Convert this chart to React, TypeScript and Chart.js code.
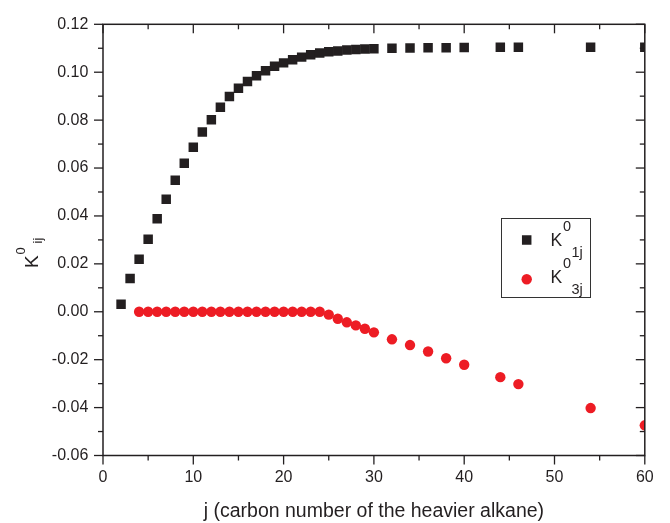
import React, { useEffect, useRef } from "react";
import { Chart, registerables } from "chart.js";

Chart.register(...registerables);

// ---- data ----
const jK1: number[] = [2, 3, 4, 5, 6, 7, 8, 9, 10, 11, 12, 13, 14, 15, 16, 17, 18, 19, 20, 21, 22, 23, 24, 25, 26, 27, 28, 29, 30, 32, 34, 36, 38, 40, 44, 46, 54, 60];
const k1j: number[] = [0.0031, 0.0139, 0.0219, 0.0303, 0.0388, 0.047, 0.0549, 0.062, 0.0687, 0.075, 0.0802, 0.0854, 0.0899, 0.0933, 0.0961, 0.0985, 0.1006, 0.1025, 0.1039, 0.1052, 0.1063, 0.1073, 0.108, 0.1085, 0.1089, 0.1093, 0.1095, 0.1097, 0.1098, 0.11, 0.1101, 0.1102, 0.1102, 0.1103, 0.1104, 0.1104, 0.1104, 0.1104];
const jK3: number[] = [4, 5, 6, 7, 8, 9, 10, 11, 12, 13, 14, 15, 16, 17, 18, 19, 20, 21, 22, 23, 24, 25, 26, 27, 28, 29, 30, 32, 34, 36, 38, 40, 44, 46, 54, 60];
const k3j: number[] = [0, 0, 0, 0, 0, 0, 0, 0, 0, 0, 0, 0, 0, 0, 0, 0, 0, 0, 0, 0, 0, -0.0012, -0.0029, -0.0044, -0.0057, -0.0071, -0.0086, -0.0115, -0.0139, -0.0166, -0.0194, -0.0221, -0.0273, -0.0302, -0.0402, -0.0474];

const xTickValues: number[] = [0, 10, 20, 30, 40, 50, 60];
const yTickValues: number[] = [-0.06, -0.04, -0.02, 0, 0.02, 0.04, 0.06, 0.08, 0.1, 0.12];
const xTitle = "j (carbon number of the heavier alkane)";

const BLACK = "#231f20";
const RED = "#ed1c24";
const FONT = "'Liberation Sans', Arial, Helvetica, sans-serif";

function richText(
  ctx: CanvasRenderingContext2D,
  parts: { t: string; size: number; x: number; y: number }[]
) {
  for (const p of parts) {
    ctx.font = `${p.size}px ${FONT}`;
    ctx.fillText(p.t, p.x, p.y);
  }
}

const framePlugin = {
  id: "frame",
  afterDraw(chart: any) {
    const { ctx, chartArea: a, scales } = chart;
    const xs = scales.x;
    const ys = scales.y;
    ctx.save();
    ctx.strokeStyle = BLACK;
    ctx.fillStyle = BLACK;
    ctx.lineWidth = 1.5;
    ctx.strokeRect(a.left, a.top, a.right - a.left, a.bottom - a.top);
    ctx.lineWidth = 1.3;
    const seg = (x1: number, y1: number, x2: number, y2: number) => {
      ctx.beginPath();
      ctx.moveTo(x1, y1);
      ctx.lineTo(x2, y2);
      ctx.stroke();
    };
    // x ticks (major every 10, minor every 5)
    for (let i = 0; i <= 12; i++) {
      const v = i * 5;
      const px = xs.getPixelForValue(v);
      const len = i % 2 === 0 ? 9 : 5;
      seg(px, a.bottom, px, a.bottom + len);
      seg(px, a.top, px, a.top + len);
    }
    // y ticks (major every 0.02, minor every 0.01)
    for (let i = 0; i <= 18; i++) {
      const v = -0.06 + i * 0.01;
      const py = ys.getPixelForValue(v);
      const len = i % 2 === 0 ? 9 : 5;
      seg(a.left - len, py, a.left, py);
      seg(a.right - len, py, a.right, py);
    }

    // legend
    const lx = 501.5, ly = 218.5, lw = 89, lh = 79;
    ctx.lineWidth = 1;
    ctx.strokeStyle = "#333";
    ctx.strokeRect(lx, ly, lw, lh);
    ctx.fillStyle = BLACK;
    ctx.fillRect(526.7 - 4.75, 240 - 4.75, 9.5, 9.5);
    ctx.fillStyle = RED;
    ctx.beginPath();
    ctx.arc(526.7, 279.3, 5.2, 0, Math.PI * 2);
    ctx.fill();
    ctx.fillStyle = BLACK;
    ctx.textBaseline = "alphabetic";
    ctx.textAlign = "left";
    richText(ctx, [
      { t: "K", size: 17.5, x: 550.5, y: 246 },
      { t: "0", size: 14.5, x: 563, y: 230.5 },
      { t: "1j", size: 14.5, x: 571.5, y: 257 },
    ]);
    richText(ctx, [
      { t: "K", size: 17.5, x: 550.5, y: 283 },
      { t: "0", size: 14.5, x: 563, y: 268 },
      { t: "3j", size: 14.5, x: 571.5, y: 294 },
    ]);

    // y axis title
    ctx.translate(38.3, 268);
    ctx.rotate(-Math.PI / 2);
    richText(ctx, [
      { t: "K", size: 19, x: 0, y: 0 },
      { t: "0", size: 13, x: 13.5, y: -13.3 },
      { t: "ij", size: 13, x: 24.5, y: 3.5 },
    ]);
    ctx.restore();
  },
};

export default function App() {
  const ref = useRef<HTMLCanvasElement | null>(null);
  useEffect(() => {
    if (!ref.current) return;
    const chart = new Chart(ref.current, {
      type: "scatter",
      data: {
        datasets: [
          {
            label: "K01j",
            data: jK1.map((j, i) => ({ x: j, y: k1j[i] })),
            pointStyle: "rect",
            pointRadius: 6.7,
            pointHoverRadius: 6.7,
            backgroundColor: BLACK,
            borderWidth: 0,
            clip: 0,
          },
          {
            label: "K03j",
            data: jK3.map((j, i) => ({ x: j, y: k3j[i] })),
            pointStyle: "circle",
            pointRadius: 5.2,
            pointHoverRadius: 5.2,
            backgroundColor: RED,
            borderWidth: 0,
            clip: 0,
          },
        ],
      },
      options: {
        animation: false,
        responsive: true,
        maintainAspectRatio: false,
        layout: { padding: { left: 0, top: 16, right: 25.2, bottom: 0 } },
        plugins: { legend: { display: false }, tooltip: { enabled: false } },
        scales: {
          x: {
            type: "linear",
            min: 0,
            max: 60,
            afterFit: (s: any) => {
              s.height = 67.5;
            },
            afterBuildTicks: (s: any) => {
              s.ticks = xTickValues.map((v) => ({ value: v }));
            },
            grid: { display: false, drawTicks: false },
            border: { display: false },
            ticks: {
              padding: 12.4,
              color: BLACK,
              font: { family: FONT, size: 16 },
              maxRotation: 0,
              callback: (v: any) => String(v),
            },
            title: {
              display: true,
              text: xTitle,
              color: BLACK,
              font: { family: FONT, size: 19.5 },
              padding: { top: 0, bottom: 0 },
            },
          },
          y: {
            type: "linear",
            min: -0.06,
            max: 0.12,
            afterFit: (s: any) => {
              s.width = 103;
            },
            afterBuildTicks: (s: any) => {
              s.ticks = yTickValues.map((v) => ({ value: v }));
            },
            grid: { display: false, drawTicks: false },
            border: { display: false },
            ticks: {
              padding: 14.7,
              color: BLACK,
              font: { family: FONT, size: 16 },
              callback: (v: any) => {
                const n = Number(v);
                return Math.abs(n) < 1e-9 ? "0.00" : n.toFixed(2);
              },
            },
          },
        },
      },
      plugins: [framePlugin],
    });
    return () => chart.destroy();
  }, []);
  return (
    <div style={{ position: "fixed", left: 0, top: 0, width: 670, height: 523, background: "#fff" }}>
      <canvas ref={ref} />
    </div>
  );
}
